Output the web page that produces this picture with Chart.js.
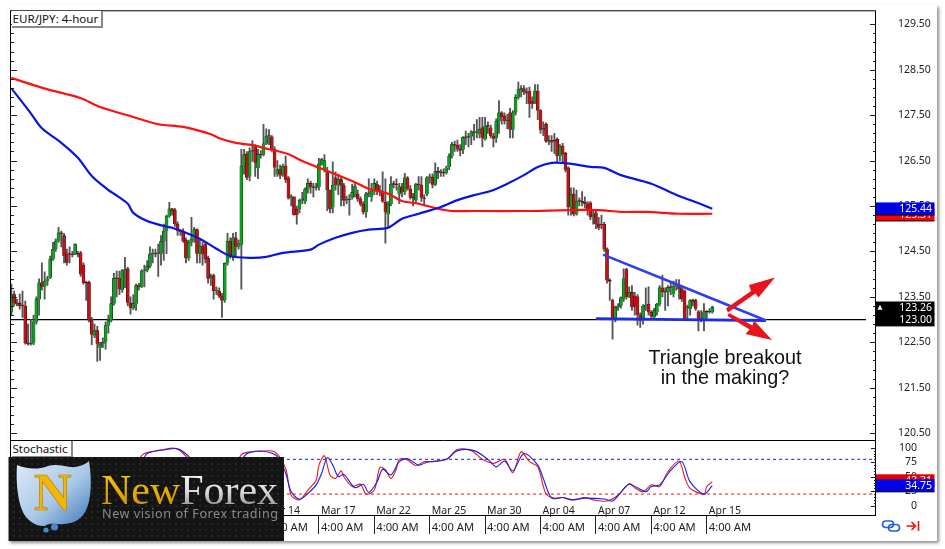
<!DOCTYPE html>
<html>
<head>
<meta charset="utf-8">
<title>EUR/JPY 4-hour</title>
<script src="https://cdn.jsdelivr.net/npm/chart.js@4"></script>
<style>
  html, body { margin: 0; background: #fff; }
  #wrap { position: relative; width: 945px; height: 549px; overflow: hidden; background: #fff; }
  #card { position: absolute; left: 8px; top: 5px; width: 929px; height: 536px; background: #fff; box-shadow: 2px 2px 3px #8f8f8f; }
  /* layout keeps 19px above the stacked axes, so the canvas is pulled up by that much */
  canvas { position: absolute; left: 0; top: -19px; }
  .tag { position: absolute; left: 11.5px; padding: 0 3px 0 1px; background: #fff; color: #111; font: 11.6px "Noto Sans", sans-serif; line-height: 15px; height: 15px; border-right: 2px solid #888; border-bottom: 2px solid #888; white-space: nowrap; }
  #note { position: absolute; left: 625px; top: 347px; width: 200px; text-align: center; font: 19.8px/20px "Liberation Sans", Arial, sans-serif; color: #111; }
  svg { position: absolute; left: 0; top: 0; }
</style>
</head>
<body>
<div id="wrap">
  <div id="card"></div>
  <canvas id="chart" width="945" height="568"></canvas>
  <div class="tag" style="top:11px">EUR/JPY: 4-hour</div>
  <div class="tag" style="top:441px">Stochastic</div>
  <div id="note">Triangle breakout<br>in the making?</div>
  <svg width="945" height="549" viewBox="0 0 945 549">
    <defs>
      <pattern id="dots" width="6" height="6" patternUnits="userSpaceOnUse">
        <rect width="6" height="6" fill="#141414"/>
        <circle cx="2" cy="2" r="1" fill="#2c2c2c"/>
      </pattern>
      <linearGradient id="shield" x1="0" y1="0" x2="1" y2="1">
        <stop offset="0" stop-color="#dfeaf5"/>
        <stop offset="0.55" stop-color="#a9c8e8"/>
        <stop offset="1" stop-color="#3f77b8"/>
      </linearGradient>
      <linearGradient id="gold" x1="0" y1="0" x2="0" y2="1">
        <stop offset="0" stop-color="#ffd400"/>
        <stop offset="1" stop-color="#c98a00"/>
      </linearGradient>
      <linearGradient id="silver" x1="0" y1="0" x2="0" y2="1">
        <stop offset="0" stop-color="#ffffff"/>
        <stop offset="0.55" stop-color="#d8d8d8"/>
        <stop offset="1" stop-color="#777"/>
      </linearGradient>
    </defs>
    <!-- arrows -->
    <polygon points="726,308.5 751,291 749,285 775,277.5 758.5,297.5 755.5,293.5 728,312.5" fill="#e8141c"/>
    <polygon points="729,313 752.5,325.5 754,320.5 772,340 745.5,334 749.5,329.5 727.5,316" fill="#e8141c"/>
    <!-- logo -->
    <rect x="8.5" y="457" width="275.5" height="84" fill="url(#dots)"/>
    <path d="M17 465 C26 469 38 470 48 466 C58 463 68 468 75 467 C82 466 87 463 89 461 C92 480 91 495 88 505 C84 518 76 523 64 524 C56 525 51 522 45 526 C36 527 26 520 22 510 C17 497 16 480 17 465 Z" fill="url(#shield)"/>
    <circle cx="54.5" cy="527" r="3.5" fill="#4f86c6"/>
    <circle cx="46" cy="530" r="2.6" fill="#4f86c6"/>
    <text x="34" y="510" font-family="Liberation Serif" font-weight="bold" font-size="52" fill="#f2b705" stroke="#b57a00" stroke-width="0.6">N</text>
    <text x="101" y="504" font-family="Liberation Serif" font-size="42" textLength="177"><tspan fill="url(#gold)">New</tspan><tspan fill="url(#silver)">Forex</tspan></text>
    <text x="102" y="517.5" font-family="Noto Sans" font-size="12.6" fill="#8a8a8a" textLength="176">New vision of Forex trading</text>
    <!-- chart toolbar icons -->
    <g fill="none" stroke="#1f5fe0" stroke-width="1.6">
      <rect x="882.5" y="521" width="11" height="6.5" rx="3.2"/>
      <rect x="888.5" y="524.5" width="11" height="6.5" rx="3.2"/>
    </g>
    <g fill="none" stroke="#ee1111" stroke-width="1.6">
      <path d="M906.5 526 H915 M911.5 522 L915.5 526 L911.5 530"/>
      <path d="M918.5 521 V531"/>
    </g>
  </svg>
</div>
<script>
// candles, 4-hour bars
const opens = [
  123.16,123.55,123.37,123.36,123.32,123.30,122.48,122.46,122.48,122.95,
  123.45,123.81,123.72,123.85,123.92,124.33,124.55,124.73,124.91,124.85,
  124.45,124.45,124.43,124.44,124.45,124.47,124.20,123.82,123.82,122.98,
  122.65,122.76,122.38,122.46,122.50,122.87,122.98,123.35,123.91,123.91,
  123.65,124.08,124.12,123.37,123.25,123.35,123.75,123.72,124.07,124.08,
  124.17,124.44,124.45,124.45,124.45,124.72,124.95,125.28,125.44,125.41,
  125.10,124.95,124.95,124.75,124.35,124.70,124.77,124.98,124.45,124.62,
  124.65,124.35,123.92,123.97,123.63,123.63,123.52,123.42,124.24,124.73,
  124.40,124.80,124.60,124.65,126.38,126.65,126.15,126.70,126.82,126.33,
  126.63,126.63,126.87,127.03,127.02,126.75,126.20,126.30,126.20,126.38,
  126.12,125.67,125.70,125.43,125.43,125.63,125.60,125.87,126.00,125.92,
  125.90,125.92,126.42,126.30,126.27,125.85,125.47,126.12,125.95,126.08,
  125.95,125.62,125.65,125.68,125.76,125.76,125.66,125.54,125.36,125.76,
  125.70,125.83,125.97,125.82,125.82,125.58,125.32,125.54,125.98,125.97,
  125.76,125.92,125.80,126.12,125.87,125.68,125.62,125.97,125.96,125.68,
  125.76,126.12,126.13,125.97,126.25,126.24,126.23,126.23,126.36,126.60,
  126.85,126.84,126.75,126.74,127.01,127.00,127.03,127.13,127.11,127.08,
  127.22,126.97,127.26,127.22,127.04,127.00,127.37,127.55,127.48,127.37,
  127.55,127.18,127.55,127.89,128.06,128.08,128.01,128.02,127.80,127.80,
  128.03,127.60,127.18,127.30,126.92,126.94,126.95,126.97,126.60,126.82,
  126.66,126.34,125.47,125.76,125.32,125.61,125.60,125.58,125.55,125.57,
  125.25,125.35,125.10,125.10,125.10,124.55,123.86,123.42,123.00,123.27,
  123.30,123.46,124.10,123.50,123.60,123.52,123.50,123.10,123.02,123.30,
  123.34,123.16,123.05,123.16,123.34,123.70,123.60,123.60,123.71,123.56,
  123.74,123.74,123.67,123.63,123.25,123.24,123.42,123.42,123.17,123.02,
  123.02,123.17,123.16,123.17
];
const highs = [
  123.78,123.63,123.45,123.56,123.63,123.41,122.90,123.00,123.10,123.50,
  123.90,124.25,124.05,123.95,124.40,124.70,124.78,125.03,124.95,124.90,
  124.55,124.60,124.50,124.67,124.50,124.50,124.25,123.85,123.85,123.05,
  122.90,122.85,122.50,122.60,122.95,123.10,123.50,124.02,124.07,124.07,
  124.10,124.37,124.15,123.50,123.55,123.78,123.80,124.10,124.20,124.30,
  124.60,124.55,124.55,124.66,124.85,125.10,125.30,125.58,125.45,125.45,
  125.15,124.98,125.00,124.80,124.75,125.25,125.03,125.00,124.75,124.70,
  124.68,124.40,124.00,124.00,123.72,123.70,123.58,124.25,124.90,124.80,
  124.90,124.92,124.75,126.75,126.75,126.70,126.78,126.94,126.85,126.75,
  126.72,127.30,127.20,127.18,127.05,126.80,126.50,126.40,126.42,126.60,
  126.15,125.75,125.70,125.50,125.65,125.80,125.90,126.10,126.05,126.00,
  126.00,126.55,126.55,126.63,126.35,125.85,126.47,126.25,126.20,126.15,
  126.00,125.72,125.75,125.98,126.00,125.85,125.70,125.60,125.80,126.10,
  126.00,126.10,126.05,125.95,126.25,126.10,125.60,126.15,126.05,126.10,
  126.00,126.00,126.22,126.15,125.95,125.78,126.00,126.15,126.15,125.75,
  126.15,126.20,126.20,126.45,126.35,126.30,126.32,126.38,126.65,126.90,
  126.93,126.95,126.85,127.03,127.15,127.10,127.16,127.30,127.40,127.45,
  127.45,127.45,127.35,127.28,127.10,127.42,127.82,127.58,127.55,127.52,
  127.65,127.60,127.95,128.23,128.15,128.15,128.10,128.12,127.90,128.17,
  128.17,127.62,127.35,127.33,127.05,127.05,127.10,127.00,126.85,126.88,
  126.68,126.36,125.90,125.90,125.85,125.68,125.82,125.70,125.60,125.60,
  125.40,125.40,125.25,125.30,125.14,124.58,123.90,123.45,123.30,123.35,
  123.50,124.12,124.13,123.72,123.75,123.60,123.55,123.15,123.33,123.70,
  123.72,123.20,123.25,123.36,123.75,123.98,123.70,123.75,123.80,123.85,
  123.88,123.88,123.70,123.65,123.32,123.44,123.45,123.45,123.20,123.20,
  123.35,123.20,123.24,123.30
];
const lows = [
  123.09,123.30,123.30,123.23,123.05,122.46,122.44,122.44,122.45,122.90,
  123.10,123.65,123.45,123.75,123.90,124.30,124.50,124.70,124.60,124.25,
  124.20,124.25,124.38,124.43,124.38,123.95,123.78,123.42,122.95,122.45,
  122.60,122.08,122.10,122.38,122.35,122.70,122.95,123.32,123.50,123.55,
  123.60,123.70,123.30,123.12,123.22,123.20,123.65,123.70,123.72,124.05,
  124.14,124.25,124.38,123.95,124.20,124.30,124.45,125.25,125.30,125.05,
  124.85,124.85,124.70,124.25,124.30,124.62,124.70,124.25,124.25,124.20,
  124.25,123.80,123.75,123.45,123.55,123.48,123.05,123.38,124.20,124.35,
  124.30,124.40,124.55,123.67,126.20,126.08,126.05,126.48,126.15,126.10,
  126.55,126.60,126.85,126.85,126.70,126.15,126.15,126.10,126.15,126.02,
  125.65,125.50,125.30,125.10,125.35,125.55,125.55,125.78,125.78,125.70,
  125.85,125.85,126.40,126.25,125.40,125.35,125.35,125.85,125.75,125.50,
  125.50,125.55,125.30,125.65,125.70,125.60,125.50,125.32,125.25,125.70,
  125.60,125.75,125.75,125.72,125.58,124.68,125.03,125.50,125.90,125.85,
  125.55,125.70,125.75,125.85,125.65,125.50,125.55,125.85,125.60,125.50,
  125.72,126.00,125.90,125.95,126.10,126.15,126.15,126.20,126.30,126.55,
  126.70,126.70,126.60,126.65,126.85,126.80,126.85,126.95,127.00,127.00,
  126.80,126.95,127.10,127.00,126.80,126.90,127.10,127.30,127.30,127.20,
  127.00,127.00,127.50,127.85,127.90,127.95,127.75,127.45,127.65,127.75,
  127.40,127.10,127.05,126.90,126.85,126.70,126.65,126.45,126.50,126.45,
  126.25,125.30,125.30,125.28,125.30,125.50,125.50,125.45,125.30,125.20,
  125.10,125.00,124.98,125.00,124.50,123.80,123.42,122.57,122.95,123.20,
  123.25,123.40,123.45,123.48,123.20,123.10,122.88,122.83,122.90,123.20,
  123.10,123.02,123.00,123.10,123.30,123.50,123.20,123.30,123.55,123.50,
  123.65,123.45,123.40,122.98,123.00,123.10,123.30,123.20,122.75,122.95,
  122.75,123.02,123.14,123.14
];
const closes = [
  123.55,123.36,123.34,123.30,123.30,122.48,122.46,122.48,122.95,123.45,
  123.81,123.72,123.85,123.90,124.33,124.55,124.73,124.91,124.88,124.40,
  124.25,124.43,124.42,124.66,124.43,124.00,123.80,123.80,122.98,122.67,
  122.76,122.47,122.46,122.50,122.87,122.98,123.35,123.91,123.90,123.67,
  124.08,124.10,123.37,123.25,123.35,123.75,123.72,124.07,124.08,124.17,
  124.44,124.45,124.44,124.46,124.72,124.95,125.28,125.44,125.38,125.10,
  124.95,124.93,124.73,124.35,124.70,124.77,124.98,124.45,124.62,124.44,
  124.33,123.90,123.95,123.63,123.65,123.52,123.42,124.24,124.73,124.40,
  124.80,124.60,124.67,126.38,126.63,126.12,126.70,126.72,126.45,126.63,
  126.62,126.87,127.03,127.05,126.75,126.35,126.30,126.17,126.38,126.08,
  125.67,125.70,125.30,125.30,125.63,125.65,125.87,126.00,125.92,125.90,
  125.92,126.42,126.52,126.50,125.85,125.43,125.96,125.96,126.08,125.95,
  125.62,125.65,125.63,125.80,125.94,125.65,125.54,125.36,125.76,125.78,
  125.83,126.00,125.82,125.85,125.60,125.36,125.54,125.98,125.97,125.96,
  125.92,125.80,126.12,125.88,125.68,125.67,125.97,125.96,125.68,125.66,
  126.12,126.13,125.97,126.26,126.24,126.23,126.22,126.34,126.60,126.85,
  126.83,126.75,126.72,127.01,127.00,127.03,127.13,127.11,127.12,127.19,
  127.00,127.26,127.25,127.04,126.98,127.37,127.55,127.46,127.37,127.38,
  127.18,127.55,127.89,128.06,128.07,128.01,127.98,127.75,127.75,128.03,
  127.60,127.18,127.20,126.92,126.94,126.90,126.92,126.60,126.82,126.64,
  126.30,125.47,125.76,125.32,125.61,125.60,125.58,125.55,125.39,125.25,
  125.30,125.10,125.02,125.08,124.55,123.86,123.84,123.02,123.27,123.30,
  123.48,123.90,123.50,123.60,123.27,123.27,123.10,122.98,123.30,123.32,
  123.16,123.07,123.20,123.34,123.70,123.60,123.62,123.71,123.70,123.74,
  123.76,123.67,123.45,123.00,123.26,123.42,123.40,123.24,123.02,123.00,
  123.17,123.16,123.18,123.27
];

// moving averages: bar number and price at the bends
const blueMaBars = [0,7,11,18,24,29,35,37,42,44,49,55,58,63,68,74,79,86,92,98,108,111,117,123,129,136,141,147,155,161,167,173,179,185,190,195,199,203,209,214,220,231,241,246,253];
const blueMa = [128.09,127.54,127.21,126.89,126.56,126.16,125.85,125.77,125.55,125.35,125.17,125.06,125.02,124.91,124.78,124.56,124.40,124.36,124.38,124.47,124.54,124.65,124.80,124.91,124.98,125.02,125.22,125.33,125.48,125.63,125.74,125.83,125.99,126.18,126.36,126.45,126.45,126.42,126.36,126.34,126.18,125.99,125.72,125.61,125.44];
const redMaBars = [0,8,14,20,26,32,44,53,62,72,75,81,87,93,100,105,111,117,123,129,136,141,147,154,159,167,186,201,212,220,229,241,253];
const redMa = [128.32,128.16,128.05,127.96,127.85,127.68,127.46,127.30,127.24,127.08,126.99,126.89,126.84,126.75,126.64,126.49,126.34,126.20,126.05,125.88,125.77,125.61,125.55,125.44,125.39,125.39,125.39,125.41,125.41,125.37,125.37,125.33,125.33];

// hand drawn lines on the chart
const triangleBars = [213.6,272.4,211];
const trianglePrices = [124.43,122.98,123.02];
const levelBars = [-0.15,308.5];
const levelPrices = [123,123];

// stochastic, red is the main line and blue the signal
const stochRedBars = [5,10,13,15,19,22,30,40,46,48,55,59,62,66,72,78,83,85,90,95,99,101,104,107,110,111,113,115,117,119,120,123,126,128,131,133,135,137,139,140,143,146,149,152,157,161,166,170,174,178,181,184,187,190,193,196,199,202,207,210,215,219,223,225,228,231,234,237,241,243,245,250,251,253];
const stochRed = [40,60,85,96,97,80,30,40,80,90,97,99,90,70,30,50,88,92,94,93,64,18,10,27,44,70,86,53,47,60,50,33,37,20,27,66,62,47,64,80,79,69,76,76,80,97,95,80,73,80,57,93,76,67,20,13,14,10,14,10,8,18,38,31,24,36,33,59,77,50,30,20,33,41];
const stochBlueBars = [5,10,13,16,20,24,30,40,47,49,56,60,64,68,74,80,84,86,91,96,99,101,104,107,110,112,114,116,118,120,124,127,129,132,134,137,140,143,147,150,157,161,167,172,175,178,181,185,190,192,195,199,203,207,214,217,220,223,229,231,234,238,242,245,250,253];
const stochBlue = [35,50,75,98,97,70,25,40,75,90,97,98,85,60,25,55,85,92,94,85,56,24,11,21,36,56,83,70,50,54,31,37,23,41,63,53,76,81,70,75,80,95,95,80,67,77,60,90,70,47,13,14,10,13,11.5,8,23,37,24,33,36,61,76,41,20,34.75];
const stochLevels = [80,20];

// axis labels
const priceTicks = [129.5,128.5,127.5,126.5,125.5,124.5,123.5,122.5,121.5,120.5];
const stochTicks = [100,75,50,25,0];
const timeTickBars = [91,111,131,151,171,191,211,231,251];
const dateLabels = ["Mar 14","Mar 17","Mar 22","Mar 25","Mar 30","Apr 04","Apr 07","Apr 12","Apr 15"];
const timeLabels = ["4:00 AM","4:00 AM","4:00 AM","4:00 AM","4:00 AM","4:00 AM","4:00 AM","4:00 AM","4:00 AM"];

// last value flags on the right
const priceFlags = [
  { v: 125.31, text: "125.31", bg: "#ff0000" },
  { v: 125.44, text: "125.44", bg: "#0000e6" },
  { v: 123.26, text: "123.26", bg: "#000000" },
  { v: 123.00, text: "123.00", bg: "#000000" },
];
const stochFlags = [
  { v: 43.3, text: "43.31", bg: "#e00000" },
  { v: 34.75, text: "34.75", bg: "#0000e6" },
];

const FONT = '"Noto Sans", sans-serif';
const barsOf = (xs, ys) => xs.map((x, i) => ({ x: x, y: ys[i] }));
const line = (xs, ys, color, width, axis, dash) => ({
  type: "line",
  data: barsOf(xs, ys),
  yAxisID: axis,
  borderColor: color,
  borderWidth: width,
  borderDash: dash || [],
  pointRadius: 0,
  tension: 0.3,
  fill: false,
});

const wickData = opens.map((o, i) => ({ x: i, y: [lows[i], highs[i]] }));
const bodyData = opens.map((o, i) => ({ x: i, y: [Math.min(o, closes[i]), Math.max(o, closes[i])] }));
const bodyColors = opens.map((o, i) => (closes[i] >= o ? "#0aa51e" : "#c80f14"));

// frame, small ticks, date row and the value flags
const overlay = {
  id: "overlay",
  beforeDraw(chart) {
    // stochastic labels end further left than the price labels
    chart.scales.y2.right = 917;
  },
  afterDraw(chart) {
    const { ctx, chartArea: a } = chart;
    const y = chart.scales.y, y2 = chart.scales.y2, x = chart.scales.x;
    ctx.save();
    ctx.strokeStyle = "#000";
    ctx.lineWidth = 1;
    const hline = (x0, x1, py) => { ctx.beginPath(); ctx.moveTo(x0, Math.round(py) + 0.5); ctx.lineTo(x1, Math.round(py) + 0.5); ctx.stroke(); };
    ctx.strokeRect(a.left - 0.5, a.top - 0.5, a.width, a.height);
    hline(a.left, a.right, y2.top);

    // price ticks on both sides, long on the labelled ones
    ctx.strokeStyle = "#222";
    for (let k = 0; k <= 45; k++) {
      const v = 120.5 + k * 0.2;
      const py = y.getPixelForValue(v);
      const long = k % 5 === 0;
      hline(a.left, a.left + (long ? 6 : 3), py);
      hline(a.right - (long ? 6 : 3), a.right, py);
    }
    for (let v = 0; v <= 100; v += 5) {
      const py = y2.getPixelForValue(v);
      const long = v % 25 === 0;
      hline(a.right - (long ? 5 : 2), a.right, py);
    }

    // date row sits just above the bottom line
    ctx.fillStyle = "#222";
    ctx.font = "10.5px " + FONT;
    ctx.textAlign = "left";
    ctx.textBaseline = "alphabetic";
    dateLabels.forEach((d, i) => ctx.fillText(d, x.getPixelForValue(timeTickBars[i]) + 2, a.bottom - 2));

    // flags
    const flag = (f, scale) => {
      const py = scale.getPixelForValue(f.v);
      ctx.fillStyle = f.bg;
      ctx.fillRect(a.right, py - 6.3, 58.5, 12.6);
      ctx.fillStyle = "#000";
      ctx.fillRect(a.right, py + 5.8, 58.5, 1);
      ctx.fillStyle = "#fff";
      ctx.font = "10.5px " + FONT;
      ctx.textAlign = "right";
      ctx.textBaseline = "middle";
      ctx.fillText(f.text, 932, py + 0.5);
    };
    priceFlags.forEach((f) => flag(f, y));
    stochFlags.forEach((f) => flag(f, y2));

    // little marker beside the current price
    const cp = y.getPixelForValue(123.26);
    ctx.fillStyle = "#fff";
    ctx.beginPath();
    ctx.moveTo(877.5, cp + 2);
    ctx.lineTo(882.5, cp + 2);
    ctx.lineTo(880, cp - 3);
    ctx.closePath();
    ctx.fill();
    ctx.restore();
  },
};

new Chart(document.getElementById("chart").getContext("2d"), {
  type: "bar",
  plugins: [overlay],
  data: {
    datasets: [
      line(triangleBars.slice(0, 2), trianglePrices.slice(0, 2), "#2f3ff0", 2.6, "y"),
      line(triangleBars.slice(1), trianglePrices.slice(1), "#1a2ee8", 2.8, "y"),
      line(blueMaBars, blueMa, "#0a14e0", 2.2, "y"),
      line(redMaBars, redMa, "#ff1010", 2.2, "y"),
      line(stochBlueBars, stochBlue, "#1020f0", 1.1, "y2"),
      line(stochRedBars, stochRed, "#f01818", 1.1, "y2"),
      line([-0.15, 312.1], [stochLevels[0], stochLevels[0]], "#1020e0", 1, "y2", [3, 3]),
      line([-0.15, 312.1], [stochLevels[1], stochLevels[1]], "#e01010", 1, "y2", [3, 3]),
      {
        data: bodyData,
        grouped: false,
        yAxisID: "y",
        barThickness: 3,
        minBarLength: 1,
        backgroundColor: bodyColors,
        borderColor: "#111",
        borderWidth: 0.5,
      },
      {
        data: wickData,
        grouped: false,
        yAxisID: "y",
        barThickness: 1.2,
        backgroundColor: "#555",
      },
      line(levelBars, levelPrices, "#000", 1.2, "y"),
    ],
  },
  options: {
    responsive: false,
    animation: false,
    devicePixelRatio: 1,
    layout: { autoPadding: false, padding: { left: 11, top: 0, right: 0, bottom: 0 } },
    plugins: { legend: { display: false }, tooltip: { enabled: false } },
    scales: {
      x: {
        type: "linear",
        offset: false,
        min: -0.15,
        max: 312.1,
        grid: { display: true, offset: false, drawOnChartArea: false, tickLength: 18, color: "#222", tickColor: "#222" },
        border: { display: false },
        afterBuildTicks: (s) => { s.ticks = timeTickBars.map((v) => ({ value: v })); },
        afterFit: (s) => { s.height = 33; },
        ticks: {
          autoSkip: false,
          maxRotation: 0,
          minRotation: 0,
          align: "start",
          labelOffset: 2,
          padding: -13,
          color: "#222",
          font: { family: FONT, size: 11.2 },
          callback: (v, i) => timeLabels[i],
        },
      },
      y: {
        position: "right",
        stack: "panels",
        stackWeight: 430,
        min: 120.346,
        max: 129.785,
        grid: { display: false, drawTicks: false },
        border: { display: false },
        afterBuildTicks: (s) => { s.ticks = priceTicks.map((v) => ({ value: v })); },
        afterFit: (s) => { s.width = 69; },
        ticks: {
          autoSkip: false,
          padding: 22,
          color: "#222",
          font: { family: FONT, size: 10.5 },
          callback: (v) => v.toFixed(2),
        },
      },
      y2: {
        position: "right",
        stack: "panels",
        stackWeight: 76,
        min: -17.8,
        max: 113,
        grid: { display: false, drawTicks: false },
        border: { display: false },
        afterBuildTicks: (s) => { s.ticks = stochTicks.map((v) => ({ value: v })); },
        afterFit: (s) => { s.width = 69; },
        ticks: {
          autoSkip: false,
          padding: 24,
          crossAlign: "far",
          color: "#222",
          font: { family: FONT, size: 10.5 },
        },
      },
    },
  },
});
</script>
</body>
</html>
